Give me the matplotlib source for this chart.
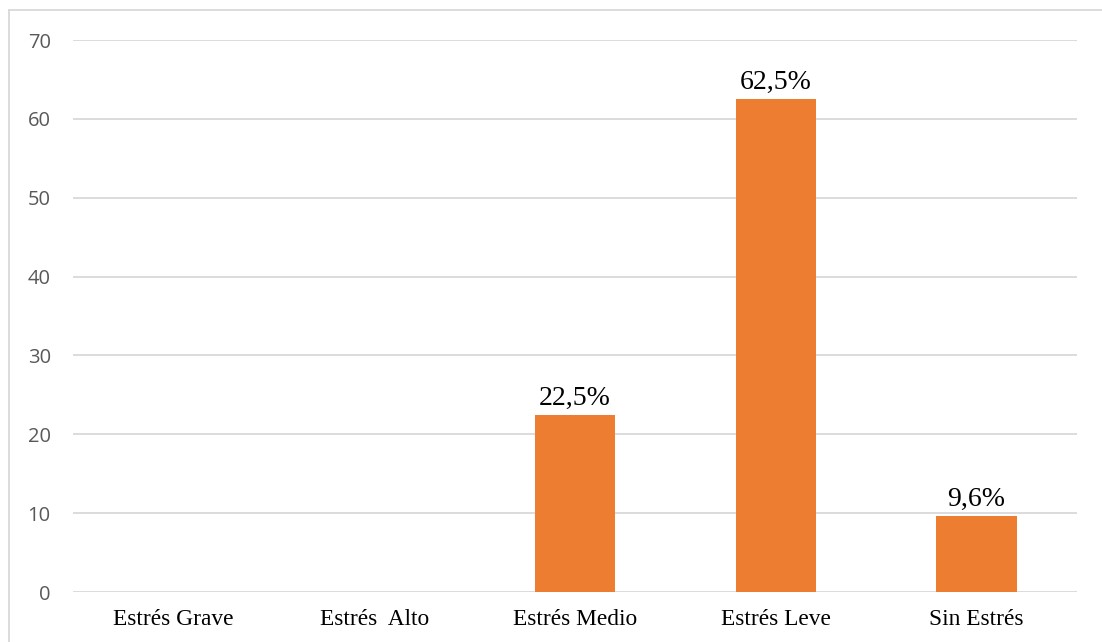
import matplotlib
matplotlib.use("Agg")
import matplotlib.pyplot as plt
from matplotlib.lines import Line2D

categories = ["Estrés Grave", "Estrés  Alto", "Estrés Medio", "Estrés Leve", "Sin Estrés"]
values = [0, 0, 22.5, 62.5, 9.6]
labels = ["", "", "22,5%", "62,5%", "9,6%"]
yticks = [0, 10, 20, 30, 40, 50, 60, 70]

W, H = 1102, 642
fig = plt.figure(figsize=(W / 100, H / 100), dpi=100)
ax = fig.add_axes([73 / W, 1 - 592 / H, (1077 - 73) / W, (592 - 40) / H])

x = list(range(len(categories)))
bars = ax.bar(x, values, width=0.4, color="#ED7D31", zorder=3)
for b, lab in zip(bars, labels):
    if lab:
        ax.text(b.get_x() + b.get_width() / 2, b.get_height() + 0.5, lab,
                ha="center", va="bottom", family="Liberation Serif",
                fontsize=20, color="black")

ax.set_xlim(-0.5, len(categories) - 0.5)
ax.set_ylim(0, 70)
ax.set_yticks(yticks)
ax.set_yticklabels([str(t) for t in yticks], family="Open Sans", fontsize=14.5, color="#595959")
ax.set_xticks(x)
ax.set_xticklabels(categories, family="Liberation Serif", fontsize=16.8, color="black")
ax.tick_params(axis="both", length=0)
ax.tick_params(axis="y", pad=16)
ax.tick_params(axis="x", pad=12)
ax.grid(axis="y", color="#D9D9D9", linewidth=1.3, zorder=0)
for s in ax.spines.values():
    s.set_visible(False)

# outer chart border (top and left visible)
fig.add_artist(Line2D([9 / W, 9 / W], [0, 1 - 10 / H], transform=fig.transFigure,
                      color="#D9D9D9", linewidth=1.3))
fig.add_artist(Line2D([9 / W, 1], [1 - 10 / H, 1 - 10 / H], transform=fig.transFigure,
                      color="#D9D9D9", linewidth=1.3))

fig.savefig("out.png", dpi=100)
